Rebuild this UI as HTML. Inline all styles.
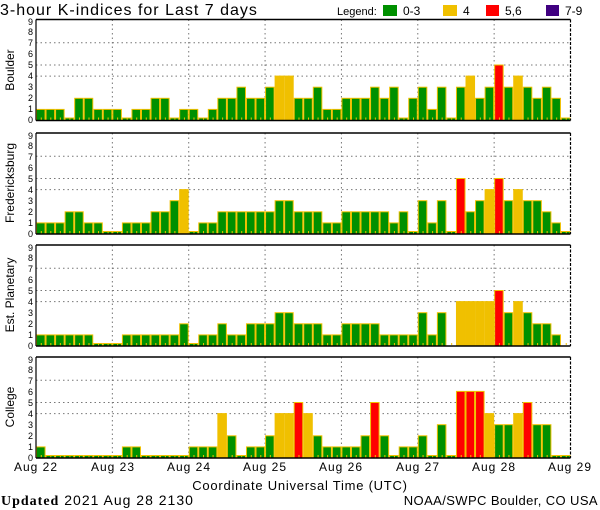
<!DOCTYPE html>
<html><head><meta charset="utf-8"><style>
html,body{margin:0;padding:0;background:#fff;}
svg{display:block;font-family:"Liberation Sans",sans-serif;}
</style></head><body>
<svg id="s" width="600" height="510" viewBox="0 0 600 510" xmlns="http://www.w3.org/2000/svg">
<text x="0" y="15" font-size="16" letter-spacing="1" fill="#000">3-hour K-indices for Last 7 days</text>
<text x="337" y="15" font-size="11" fill="#000">Legend:</text>
<rect x="383" y="5" width="14" height="11" fill="#009000"/><text x="403" y="15" font-size="12">0-3</text>
<rect x="443" y="5" width="14" height="11" fill="#f0c000"/><text x="463" y="15" font-size="12">4</text>
<rect x="486" y="5" width="13" height="11" fill="#ff0000"/><text x="505" y="15" font-size="12">5,6</text>
<rect x="546" y="5" width="13" height="11" fill="#400080"/><text x="565" y="15" font-size="12">7-9</text>
<g id="g"></g>
<g font-size="12" text-anchor="middle" letter-spacing="1">
<text x="36" y="471">Aug 22</text><text x="113" y="471">Aug 23</text><text x="189" y="471">Aug 24</text>
<text x="265" y="471">Aug 25</text><text x="341" y="471">Aug 26</text><text x="418" y="471">Aug 27</text>
<text x="494" y="471">Aug 28</text><text x="570" y="471">Aug 29</text>
</g>
<text x="300" y="490" font-size="13" letter-spacing="0.75" text-anchor="middle">Coordinate Universal Time (UTC)</text>
<text x="1" y="505" font-size="14" letter-spacing="1"><tspan font-family="Liberation Serif" font-weight="bold">Updated</tspan> 2021 Aug 28 2130</text>
<text x="598" y="505" font-size="13" letter-spacing="0.4" text-anchor="end">NOAA/SWPC Boulder, CO USA</text>
<text transform="translate(14,70) rotate(-90)" font-size="12" text-anchor="middle">Boulder</text>
<text transform="translate(14,183) rotate(-90)" font-size="12" text-anchor="middle">Fredericksburg</text>
<text transform="translate(14,295) rotate(-90)" font-size="12" text-anchor="middle">Est. Planetary</text>
<text transform="translate(14,407) rotate(-90)" font-size="12" text-anchor="middle">College</text>
<g font-size="9" text-anchor="end" fill="#000">
<text x="33" y="123">0</text><text x="33" y="112">1</text><text x="33" y="101">2</text><text x="33" y="90">3</text><text x="33" y="79">4</text><text x="33" y="68">5</text><text x="33" y="57">6</text><text x="33" y="46">7</text><text x="33" y="35">8</text><text x="33" y="25">9</text>
<text x="33" y="237">0</text><text x="33" y="226">1</text><text x="33" y="215">2</text><text x="33" y="204">3</text><text x="33" y="193">4</text><text x="33" y="182">5</text><text x="33" y="171">6</text><text x="33" y="160">7</text><text x="33" y="149">8</text><text x="33" y="139">9</text>
<text x="33" y="349">0</text><text x="33" y="338">1</text><text x="33" y="327">2</text><text x="33" y="316">3</text><text x="33" y="305">4</text><text x="33" y="294">5</text><text x="33" y="283">6</text><text x="33" y="272">7</text><text x="33" y="261">8</text><text x="33" y="251">9</text>
<text x="33" y="461">0</text><text x="33" y="450">1</text><text x="33" y="439">2</text><text x="33" y="428">3</text><text x="33" y="417">4</text><text x="33" y="406">5</text><text x="33" y="395">6</text><text x="33" y="384">7</text><text x="33" y="373">8</text><text x="33" y="363">9</text>
</g>
<script>
(function(){
var NS="http://www.w3.org/2000/svg",g=document.getElementById("g");
function el(t,a){var e=document.createElementNS(NS,t);for(var k in a)e.setAttribute(k,a[k]);g.appendChild(e);return e;}
var P=[
{b:120.5,d:[1,1,1,0,2,2,1,1, 1,0,1,1,2,2,0,1, 1,0,1,2,2,3,2,2, 3,4,4,2,2,3,1,1, 2,2,2,3,2,3,0,2, 3,1,3,0,3,4,2,3, 5,3,4,3,2,3,2,0]},
{b:234,d:[1,1,1,2,2,1,1,0, 0,1,1,1,2,2,3,4, 0,1,1,2,2,2,2,2, 2,3,3,2,2,2,1,1, 2,2,2,2,2,1,2,0, 3,1,3,0,5,2,3,4, 5,3,4,3,3,2,1,0]},
{b:346,d:[1,1,1,1,1,1,0,0, 0,1,1,1,1,1,1,2, 0,1,1,2,1,1,2,2, 2,3,3,2,2,2,1,1, 2,2,2,2,1,1,1,1, 3,1,3,-1,4,4,4,4, 5,3,4,3,2,2,1,-1]},
{b:458,d:[1,0,0,0,0,0,0,0, 0,1,1,0,0,0,0,0, 1,1,1,4,2,0,1,1, 2,4,4,5,4,2,1,1, 1,1,2,5,2,0,1,1, 2,0,3,0,6,6,6,4, 3,3,4,5,3,3,0,0]}];
var x0=36,x1=570.5,W=(x1-x0)/56,U=11.1;
P.forEach(function(p){
 var b=p.b,t=b-101;
 [4,5,7].forEach(function(v){var y=b-v*U;el("line",{x1:x0,x2:x1,y1:y,y2:y,stroke:"#777","stroke-dasharray":"1.5,3","stroke-width":1});});
 for(var d=1;d<7;d++){var x=x0+d*8*W;el("line",{x1:x,x2:x,y1:t,y2:b,stroke:"#777","stroke-dasharray":"1.5,3","stroke-width":1});}
 p.d.forEach(function(v,i){
  var x=x0+i*W;
  if(v<0){el("rect",{x:x+W/2,y:b-3,width:1,height:2,fill:"#f0c000"});return;}
  var h=v==0?2.5:v*U;
  var c=v<=3?"#009000":v==4?"#f0c000":v<=6?"#ff0000":"#400080";
  el("rect",{x:x+0.5,y:b-h,width:W-1,height:h,fill:c,stroke:"#f0c000","stroke-width":1});
  el("rect",{x:x+W/2,y:b-3,width:1,height:2.5,fill:"#f0c000"});
 });
 el("line",{x1:x0,x2:x1,y1:t,y2:t,stroke:"#000","stroke-width":1.5});
 el("line",{x1:x0,x2:x1,y1:b,y2:b,stroke:"#000","stroke-width":1.5});
 el("line",{x1:x0,x2:x0,y1:t,y2:b,stroke:"#000","stroke-width":1.2});
 el("line",{x1:x1,x2:x1,y1:t,y2:b,stroke:"#000","stroke-width":1.2,"stroke-dasharray":"3,1.5"});
});
})();
</script>
</svg>
</body></html>
